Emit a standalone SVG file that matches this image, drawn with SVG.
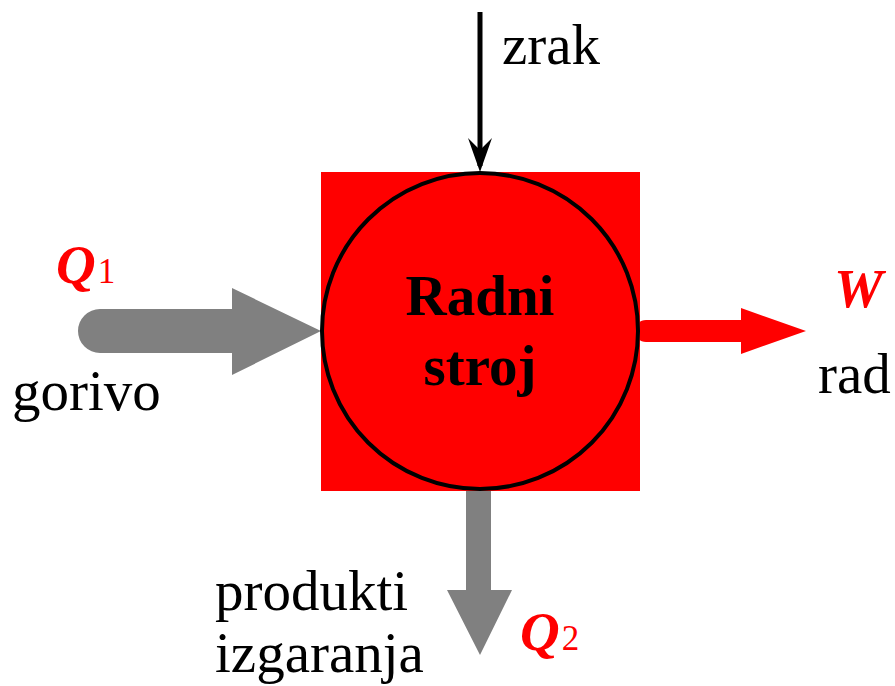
<svg xmlns="http://www.w3.org/2000/svg" width="895" height="686" viewBox="0 0 895 686">
<style>
.t{font-family:"Liberation Serif","Times New Roman",serif;font-size:57px;fill:#000}
.b{font-weight:bold;text-anchor:middle}
.q{font-family:"Liberation Serif","Times New Roman",serif;font-size:55px;fill:#ff0000;font-weight:bold;font-style:italic}
.s{font-size:35px;font-weight:normal;font-style:normal}
</style>
<rect width="895" height="686" fill="#fff"/>
<g id="connectors">
<line x1="480" y1="12" x2="480" y2="166" stroke="#000" stroke-width="5"/>
<path d="M468,138 L480,172 L492,138 L480,150 Z" fill="#000"/>
<path d="M100,309 L232,309 L232,288 L321,331 L232,375 L232,353 L100,353 A22,22 0 0 1 100,309 Z" fill="#808080"/>
<path d="M646,320 L741,320 L741,308 L806,331 L741,354 L741,342 L646,342 A11,11 0 0 1 646,320 Z" fill="#ff0000"/>
<path d="M466,491 L491,491 L491,590 L512,590 L480,655 L447,590 L466,590 Z" fill="#808080"/>
</g>
<g id="node-radni-stroj">
<rect x="321" y="172" width="319" height="319" fill="#ff0000"/>
<circle cx="480" cy="331" r="158" fill="#ff0000" stroke="#000" stroke-width="4"/>
<text class="t b" x="480" y="315">Radni</text>
<text class="t b" x="480" y="385">stroj</text>
</g>
<g id="labels">
<text class="t" x="502" y="64">zrak</text>
<text class="q" x="56" y="283">Q<tspan class="s" dx="2">1</tspan></text>
<text class="t" x="12" y="410">gorivo</text>
<text class="q" x="834" y="307">W</text>
<text class="t" x="818" y="393">rad</text>
<text class="t" x="215" y="610">produkti</text>
<text class="t" x="215" y="672">izgaranja</text>
<text class="q" x="520" y="650">Q<tspan class="s" dx="2">2</tspan></text>
</g>
</svg>
